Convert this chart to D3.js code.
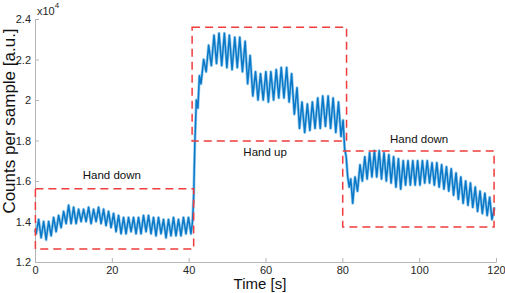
<!DOCTYPE html>
<html>
<head>
<meta charset="utf-8">
<script src="https://cdn.jsdelivr.net/npm/d3@7"></script>
<style>
  body { margin: 0; background: #fff; }
  svg { display: block; font-family: "Liberation Sans", Arial, sans-serif; }
</style>
</head>
<body>
<div id="chart"></div>
<script>
// signal (time in s, counts in units of 1e4)
const time = [
  0.0, 0.3, 0.95, 1.6, 2.25, 2.9, 3.55, 4.2, 4.85, 5.5, 6.15, 6.8, 7.45, 8.1, 8.75, 9.4,
  10.05, 10.7, 11.35, 12.0, 12.65, 13.3, 13.95, 14.6, 15.25, 15.9, 16.55, 17.2, 17.85, 18.5,
  19.15, 19.8, 20.45, 21.1, 21.75, 22.4, 23.05, 23.7, 24.35, 25.0, 25.65, 26.3, 26.95, 27.6,
  28.25, 28.9, 29.55, 30.2, 30.85, 31.5, 32.15, 32.8, 33.45, 34.1, 34.75, 35.4, 36.05, 36.7,
  37.35, 38.0, 38.65, 39.3, 39.95, 40.6, 41.0, 41.3, 41.6, 42.0, 42.4, 42.8, 43.2,
  43.9, 44.55, 45.2, 45.9, 46.6, 47.25, 47.9, 48.6, 49.3, 49.95, 50.6, 51.3, 52.0, 52.65,
  53.3, 54.0, 54.7, 55.35, 56.0, 56.7, 57.4, 58.05, 58.7, 59.4, 60.1, 60.75, 61.4, 62.1,
  62.8, 63.45, 64.1, 64.8, 65.5, 66.15, 66.8, 67.5, 68.2, 68.85, 69.5, 70.2, 70.9, 71.55,
  72.2, 72.9, 73.6, 74.25, 74.9, 75.6, 76.3, 76.95, 77.6, 78.3, 79.0, 79.65, 80.2, 80.6,
  81.0, 81.4, 81.8, 82.2, 82.7,
  83.3, 83.95, 84.6, 85.2, 85.85, 86.45, 87.1, 87.7, 88.35, 88.95, 89.6, 90.2, 90.85, 91.45,
  92.1, 92.7, 93.35, 93.95, 94.6, 95.2, 95.85, 96.45, 97.1, 97.7, 98.35, 98.95, 99.6, 100.2,
  100.85, 101.45, 102.1, 102.7, 103.35, 103.95, 104.6, 105.2, 105.85, 106.45, 107.1, 107.7,
  108.35, 108.95, 109.6, 110.2, 110.85, 111.45, 112.1, 112.7, 113.35, 113.95, 114.6, 115.2,
  115.85, 116.45, 117.1, 117.7, 118.35, 118.95, 119.6
];
const counts = [
  1.36, 1.34, 1.41, 1.32, 1.40, 1.31, 1.40, 1.33, 1.42, 1.35, 1.43, 1.37, 1.45, 1.39, 1.48, 1.39,
  1.47, 1.39, 1.46, 1.40, 1.46, 1.40, 1.47, 1.39, 1.46, 1.40, 1.47, 1.39, 1.46, 1.38,
  1.45, 1.37, 1.44, 1.35, 1.43, 1.34, 1.42, 1.34, 1.42, 1.35, 1.42, 1.34, 1.42, 1.34,
  1.43, 1.35, 1.43, 1.34, 1.42, 1.33, 1.42, 1.34, 1.41, 1.32, 1.41, 1.33, 1.42, 1.33,
  1.41, 1.33, 1.42, 1.34, 1.42, 1.34, 1.40, 1.52, 1.78, 2.00, 1.96, 2.12, 2.08,
  2.20, 2.14, 2.27, 2.17, 2.32, 2.18, 2.33, 2.17, 2.33, 2.16, 2.32, 2.15, 2.31, 2.16,
  2.31, 2.14, 2.29, 2.08, 2.22, 2.02, 2.14, 2.00, 2.13, 2.00, 2.14, 1.99, 2.14, 2.00,
  2.15, 2.01, 2.16, 2.01, 2.16, 1.99, 2.13, 1.93, 2.06, 1.86, 1.99, 1.84, 1.98, 1.85,
  1.99, 1.86, 2.01, 1.86, 2.02, 1.87, 2.02, 1.86, 2.01, 1.84, 1.99, 1.82, 1.90, 1.76,
  1.72, 1.62, 1.57, 1.61, 1.49,
  1.62, 1.55, 1.68, 1.60, 1.72, 1.61, 1.74, 1.62, 1.75, 1.62, 1.75, 1.61, 1.74, 1.60,
  1.73, 1.59, 1.72, 1.57, 1.71, 1.56, 1.70, 1.58, 1.70, 1.58, 1.70, 1.58, 1.70, 1.58,
  1.70, 1.59, 1.70, 1.59, 1.69, 1.58, 1.69, 1.57, 1.68, 1.56, 1.67, 1.55,
  1.66, 1.53, 1.64, 1.51, 1.62, 1.49, 1.60, 1.48, 1.59, 1.47, 1.57, 1.45,
  1.55, 1.44, 1.54, 1.43, 1.52, 1.41, 1.47
];

// dashed boxes: [t0, t1, low, high] and their captions
const boxes = [
  [0.1, 41.3, 1.264, 1.562],
  [40.9, 81.1, 1.797, 2.359],
  [80.1, 119.5, 1.373, 1.748]
];
const boxLabels = ["Hand down", "Hand up", "Hand down"];
const labelPos = [[20.0, 1.61], [59.9, 1.725], [100.0, 1.788]];

const xTicks = [0, 20, 40, 60, 80, 100, 120];
const yTicks = [1.2, 1.4, 1.6, 1.8, 2, 2.2, 2.4];

const width = 505, height = 293;
const margin = { top: 19, right: 9, bottom: 31, left: 35 };

const svg = d3.select("#chart")
  .append("svg")
  .attr("width", width)
  .attr("height", height);

const x = d3.scaleLinear()
  .domain([0, 120])
  .range([margin.left, width - margin.right]);

const y = d3.scaleLinear()
  .domain([1.2, 2.4])
  .range([height - margin.bottom, margin.top]);

// axes, MATLAB style: ticks pointing inward, grey lines
const xAxis = svg.append("g")
  .attr("transform", `translate(0,${y(1.2)})`)
  .call(d3.axisBottom(x).tickValues(xTicks).tickSizeInner(-4).tickSizeOuter(0).tickPadding(4));

const yAxis = svg.append("g")
  .attr("transform", `translate(${x(0)},0)`)
  .call(d3.axisLeft(y).tickValues(yTicks).tickFormat(d3.format("")).tickSizeInner(-4).tickSizeOuter(0).tickPadding(4));

[xAxis, yAxis].forEach(g => {
  g.select(".domain").attr("stroke", "#b5b5b5");
  g.selectAll(".tick line").attr("stroke", "#b5b5b5");
  g.selectAll(".tick text")
    .attr("fill", "#262626")
    .style("font-size", "11px")
    .style("font-family", "Liberation Sans, Arial, sans-serif");
});

// the x10^4 multiplier
const mult = svg.append("text")
  .attr("x", 37)
  .attr("y", 15)
  .attr("fill", "#262626")
  .style("font-size", "11px");
mult.append("tspan").text("x10");
mult.append("tspan").attr("dy", -7).style("font-size", "8px").text("4");

// signal
const pts = time.map((t, i) => [t, counts[i]]);
const line = d3.line()
  .x(d => x(d[0]))
  .y(d => y(d[1]));

svg.append("path")
  .datum(pts)
  .attr("fill", "none")
  .attr("stroke", "#9ed0f0")
  .attr("stroke-width", 3)
  .attr("stroke-linejoin", "round")
  .attr("d", line);

svg.append("path")
  .datum(pts)
  .attr("fill", "none")
  .attr("stroke", "#0a78c6")
  .attr("stroke-width", 1.5)
  .attr("stroke-linejoin", "round")
  .attr("d", line);

// red dashed rectangles
svg.append("g")
  .selectAll("rect")
  .data(boxes)
  .join("rect")
  .attr("x", d => x(d[0]))
  .attr("y", d => y(d[3]))
  .attr("width", d => x(d[1]) - x(d[0]))
  .attr("height", d => y(d[2]) - y(d[3]))
  .attr("fill", "none")
  .attr("stroke", "#f03c3c")
  .attr("stroke-width", 1.5)
  .attr("stroke-dasharray", "8,5");

svg.append("g")
  .selectAll("text")
  .data(boxLabels)
  .join("text")
  .attr("x", (d, i) => x(labelPos[i][0]))
  .attr("y", (d, i) => y(labelPos[i][1]))
  .attr("text-anchor", "middle")
  .attr("fill", "#111")
  .style("font-size", "11.5px")
  .text(d => d);

// axis titles
svg.append("text")
  .attr("x", 260)
  .attr("y", 289)
  .attr("text-anchor", "middle")
  .attr("fill", "#111")
  .style("font-size", "15px")
  .text("Time [s]");

svg.append("text")
  .attr("transform", "translate(15,121) rotate(-90)")
  .attr("text-anchor", "middle")
  .attr("fill", "#111")
  .style("font-size", "17px")
  .text("Counts per sample [a.u.]");
</script>
</body>
</html>
